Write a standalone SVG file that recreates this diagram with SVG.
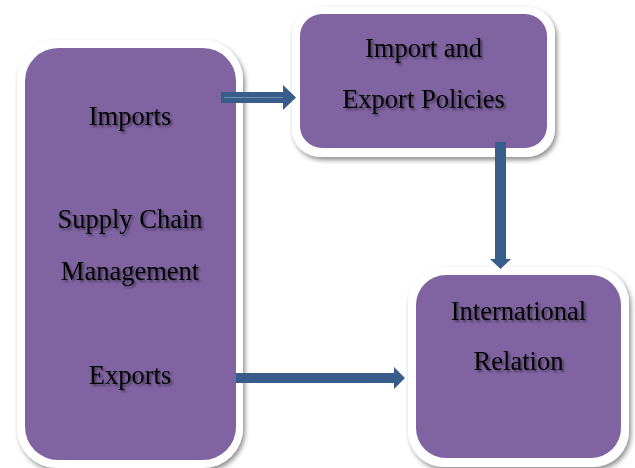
<svg xmlns="http://www.w3.org/2000/svg" width="635" height="468" viewBox="0 0 635 468">
<defs>
<filter id="boxShadow" x="-10%" y="-10%" width="125%" height="125%">
<feGaussianBlur in="SourceAlpha" stdDeviation="2.5"/>
<feOffset dx="2" dy="3" result="b"/>
<feComponentTransfer><feFuncA type="linear" slope="0.45"/></feComponentTransfer>
<feMerge><feMergeNode/><feMergeNode in="SourceGraphic"/></feMerge>
</filter>
<filter id="textShadow" x="-10%" y="-20%" width="130%" height="150%">
<feGaussianBlur in="SourceAlpha" stdDeviation="1"/>
<feOffset dx="1.5" dy="1.5"/>
<feComponentTransfer><feFuncA type="linear" slope="0.45"/></feComponentTransfer>
<feMerge><feMergeNode/><feMergeNode in="SourceGraphic"/></feMerge>
</filter>
</defs>
<style>
.frame{fill:#ffffff;filter:url(#boxShadow);}
.box{fill:#8064A2;}
.lbl{font-family:"Liberation Serif","Times New Roman",serif;font-size:26.5px;fill:#000;text-anchor:middle;filter:url(#textShadow);}
.arrow{fill:#385D8A;}
</style>
<rect width="635" height="468" fill="#ffffff"/>
<g id="supply-chain">
<rect class="frame" x="17" y="40" width="226" height="428" rx="40"/>
<rect class="box" x="25" y="48" width="211" height="412" rx="33"/>
<text class="lbl" x="130" y="125">Imports</text>
<text class="lbl" x="130" y="228">Supply Chain</text>
<text class="lbl" x="130" y="280">Management</text>
<text class="lbl" x="130" y="384">Exports</text>
</g>
<g id="policies">
<rect class="frame" x="292" y="7" width="263" height="150" rx="28"/>
<rect class="box" x="300" y="14" width="247" height="134" rx="22"/>
<text class="lbl" x="423.5" y="57">Import and</text>
<text class="lbl" x="423.5" y="108">Export Policies</text>
</g>
<g id="international">
<rect class="frame" x="408" y="267" width="221" height="200" rx="36"/>
<rect class="box" x="416" y="275" width="205" height="183" rx="30"/>
<text class="lbl" x="518.5" y="320">International</text>
<text class="lbl" x="518.5" y="370">Relation</text>
</g>
<g id="connectors">
<polygon class="arrow" points="221,92 283,92 283,85 296,97.5 283,110 283,103 221,103"/>
<line x1="224" y1="97.5" x2="283" y2="97.5" stroke="#6F8FB5" stroke-width="1"/>
<polygon class="arrow" points="495,142 506,142 506,259 511,259 500.5,269 490,259 495,259"/>
<polygon class="arrow" points="236,373 394,373 394,367 405,378 394,389 394,383 236,383"/>
</g>
</svg>
